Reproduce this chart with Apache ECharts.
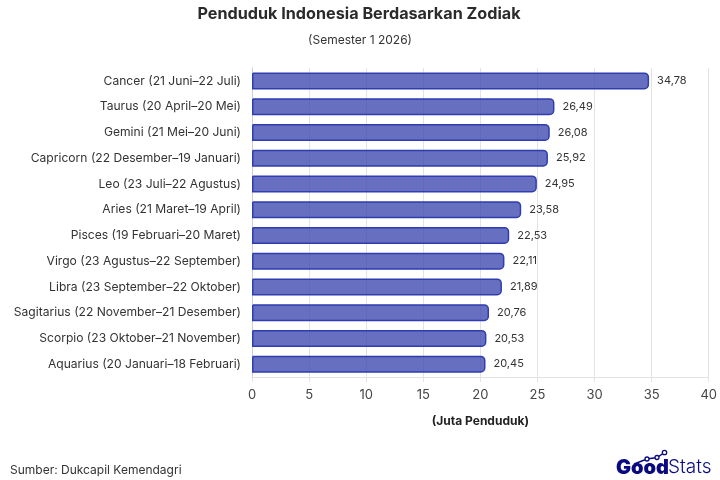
<!DOCTYPE html>
<html>
<head>
<meta charset="utf-8">
<style>
html,body{margin:0;padding:0;background:#fff}
#chart{width:720px;height:480px}
</style>
<script src="https://cdn.jsdelivr.net/npm/echarts@6/dist/echarts.min.js"></script>
</head>
<body>
<div id="chart"></div>
<script>
var categories = [
	'Cancer (21 Juni–22 Juli)','Taurus (20 April–20 Mei)','Gemini (21 Mei–20 Juni)',
	'Capricorn (22 Desember–19 Januari)','Leo (23 Juli–22 Agustus)','Aries (21 Maret–19 April)',
	'Pisces (19 Februari–20 Maret)','Virgo (23 Agustus–22 September)','Libra (23 September–22 Oktober)',
	'Sagitarius (22 November–21 Desember)','Scorpio (23 Oktober–21 November)','Aquarius (20 Januari–18 Februari)'
];
var values = [34.78,26.49,26.08,25.92,24.95,23.58,22.53,22.11,21.89,20.76,20.53,20.45];

var font = 'Inter, sans-serif';
var myChart = echarts.init(document.getElementById('chart'));
var option = {
	animation: false,
	title: [
		{text: 'Penduduk Indonesia Berdasarkan Zodiak', left: 354, top: 1, textAlign: 'center',
			textStyle: {fontFamily: font, fontSize: 16.2, fontWeight: 700, color: '#2b2b2b'}},
		{text: '(Semester 1 2026)', left: 355, top: 29, textAlign: 'center',
			textStyle: {fontFamily: font, fontSize: 12, fontWeight: 400, color: '#333'}},
		{text: 'Sumber: Dukcapil Kemendagri', left: 5, top: 459,
			textStyle: {fontFamily: font, fontSize: 12, fontWeight: 400, color: '#333'}}
	],
	grid: {left: 252, right: 11, top: 68, bottom: 103},
	xAxis: {
		type: 'value', min: 0, max: 40, interval: 5,
		name: '(Juta Penduduk)', nameLocation: 'middle', nameGap: 38,
		nameTextStyle: {fontFamily: font, fontSize: 12, fontWeight: 700, color: '#222'},
		axisLine: {show: true, lineStyle: {color: '#e3e3e3'}},
		axisTick: {show: true, length: 5, lineStyle: {color: '#e3e3e3'}},
		axisLabel: {fontFamily: font, fontSize: 13, color: '#444', margin: 12},
		splitLine: {show: true, lineStyle: {color: '#e3e3e3'}}
	},
	yAxis: {
		type: 'category', data: categories, inverse: true,
		axisLine: {show: true, lineStyle: {color: '#cfcfcf'}},
		axisTick: {show: false},
		axisLabel: {fontFamily: font, fontSize: 12.1, color: '#333', margin: 11}
	},
	series: [{
		type: 'bar', data: values, barWidth: 17,
		itemStyle: {color: 'rgba(60,70,175,0.78)', borderColor: '#2f3db0', borderWidth: 1.5, borderRadius: [0, 4, 4, 0]},
		label: {
			show: true, position: 'right', distance: 8,
			fontFamily: font, fontSize: 11, color: '#333',
			formatter: function (p) { return String(p.value.toFixed(2)).replace('.', ','); }
		}
	}],
	graphic: [
		{type: 'text', left: 616, top: 458, style: {text: 'Good', fontFamily: font, fontSize: 20, fontWeight: 900, fill: '#0a0a80'}},
		{type: 'text', left: 668, top: 458, style: {text: 'Stats', fontFamily: font, fontSize: 19, fontWeight: 300, fill: '#0a0a80'}},
		{type: 'polyline', shape: {points: [[634,464],[647,459],[657,457.5],[664.5,452.5]]}, style: {stroke: '#0a0a80', lineWidth: 1.5, fill: 'none'}},
		{type: 'circle', shape: {cx: 647, cy: 459, r: 2}, style: {fill: '#fff', stroke: '#0a0a80', lineWidth: 1.3}},
		{type: 'circle', shape: {cx: 657, cy: 457.5, r: 2}, style: {fill: '#fff', stroke: '#0a0a80', lineWidth: 1.3}},
		{type: 'circle', shape: {cx: 664.5, cy: 452.5, r: 2.2}, style: {fill: '#fff', stroke: '#0a0a80', lineWidth: 1.3}}
	]
};
myChart.setOption(option);
</script>
</body>
</html>
